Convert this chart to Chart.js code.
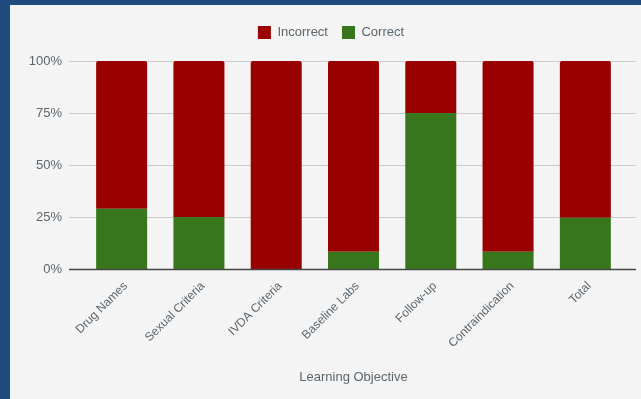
<!DOCTYPE html>
<html>
<head>
<meta charset="utf-8">
<script src="https://cdn.jsdelivr.net/npm/chart.js@4"></script>
<style>
  html, body { margin: 0; padding: 0; background: #1f4a7c; width: 641px; height: 399px; overflow: hidden; }
  #wrap { position: absolute; left: 10px; top: 5px; width: 631px; height: 394px; background: #f4f4f4; }
  canvas { display: block; }
</style>
</head>
<body>
<div id="wrap"><canvas id="c" width="631" height="394"></canvas></div>
<script>
const categories = ["Drug Names", "Sexual Criteria", "IVDA Criteria", "Baseline Labs", "Follow-up", "Contraindication", "Total"];
const correctPct = [29, 25, 0, 8.3, 75, 8.3, 24.6];
const incorrectPct = [71, 75, 100, 91.7, 25, 91.7, 75.4];
const yTicks = [0, 25, 50, 75, 100];
const xTitle = "Learning Objective";

const FONT = "'Liberation Sans', Arial, sans-serif";
const TEXT = "#5b666e";

const gridPlugin = {
  id: 'extGrid',
  beforeDatasetsDraw(chart) {
    const y = chart.scales.y, ctx = chart.ctx;
    const x0 = chart.chartArea.left - 14, x1 = chart.chartArea.right + 12;
    ctx.save();
    ctx.strokeStyle = '#cccccc';
    ctx.lineWidth = 1;
    yTicks.forEach(v => {
      if (v === 0) return;
      const py = Math.round(y.getPixelForValue(v)) + 0.5;
      ctx.beginPath(); ctx.moveTo(x0, py); ctx.lineTo(x1, py); ctx.stroke();
    });
    ctx.restore();
  },
  afterDatasetsDraw(chart) {
    const y = chart.scales.y, ctx = chart.ctx;
    const x0 = chart.chartArea.left - 14, x1 = chart.chartArea.right + 12;
    const py = Math.round(y.getPixelForValue(0)) + 0.5;
    ctx.save();
    ctx.strokeStyle = '#444444';
    ctx.lineWidth = 1.5;
    ctx.beginPath(); ctx.moveTo(x0, py); ctx.lineTo(x1, py); ctx.stroke();
    ctx.restore();
  }
};

new Chart(document.getElementById('c'), {
  type: 'bar',
  data: {
    labels: categories,
    datasets: [
      { label: 'Correct', data: correctPct, backgroundColor: '#38761d', borderWidth: 0,
        categoryPercentage: 1, barPercentage: 0.66 },
      { label: 'Incorrect', data: incorrectPct, backgroundColor: '#990000', borderWidth: 0,
        borderRadius: { topLeft: 2, topRight: 2, bottomLeft: 0, bottomRight: 0 }, borderSkipped: false,
        categoryPercentage: 1, barPercentage: 0.66 }
    ]
  },
  options: {
    responsive: false,
    animation: false,
    layout: { padding: { top: 7, left: 11, right: 0, bottom: 10 } },
    plugins: {
      legend: {
        position: 'top',
        reverse: true,
        labels: { boxWidth: 13, boxHeight: 13, padding: 14, color: TEXT, font: { family: FONT, size: 13 } }
      },
      title: { display: true, text: '', weight: 500, padding: 0, font: { size: 10 } },
      tooltip: { enabled: false }
    },
    scales: {
      x: {
        stacked: true,
        offset: true,
        grid: { display: false, drawTicks: false },
        border: { display: false },
        ticks: { color: TEXT, font: { family: FONT, size: 12 }, minRotation: 45, maxRotation: 45, padding: 10, labelOffset: 4, autoSkip: false },
        title: { display: true, text: xTitle, color: TEXT, font: { family: FONT, size: 13 } },
        afterFit(s) { s.height = 120; }
      },
      y: {
        stacked: true,
        min: 0, max: 100,
        grid: { display: false, drawTicks: false },
        border: { display: false },
        ticks: { stepSize: 25, color: TEXT, padding: 21, font: { family: FONT, size: 13 }, callback: v => v + '%' },
        afterFit(s) { s.width = 62; }
      },
      yPad: {
        position: 'right',
        display: true,
        grid: { display: false, drawTicks: false },
        border: { display: false },
        ticks: { display: false },
        afterFit(s) { s.width = 17; }
      }
    }
  },
  plugins: [gridPlugin]
});
</script>
</body>
</html>
